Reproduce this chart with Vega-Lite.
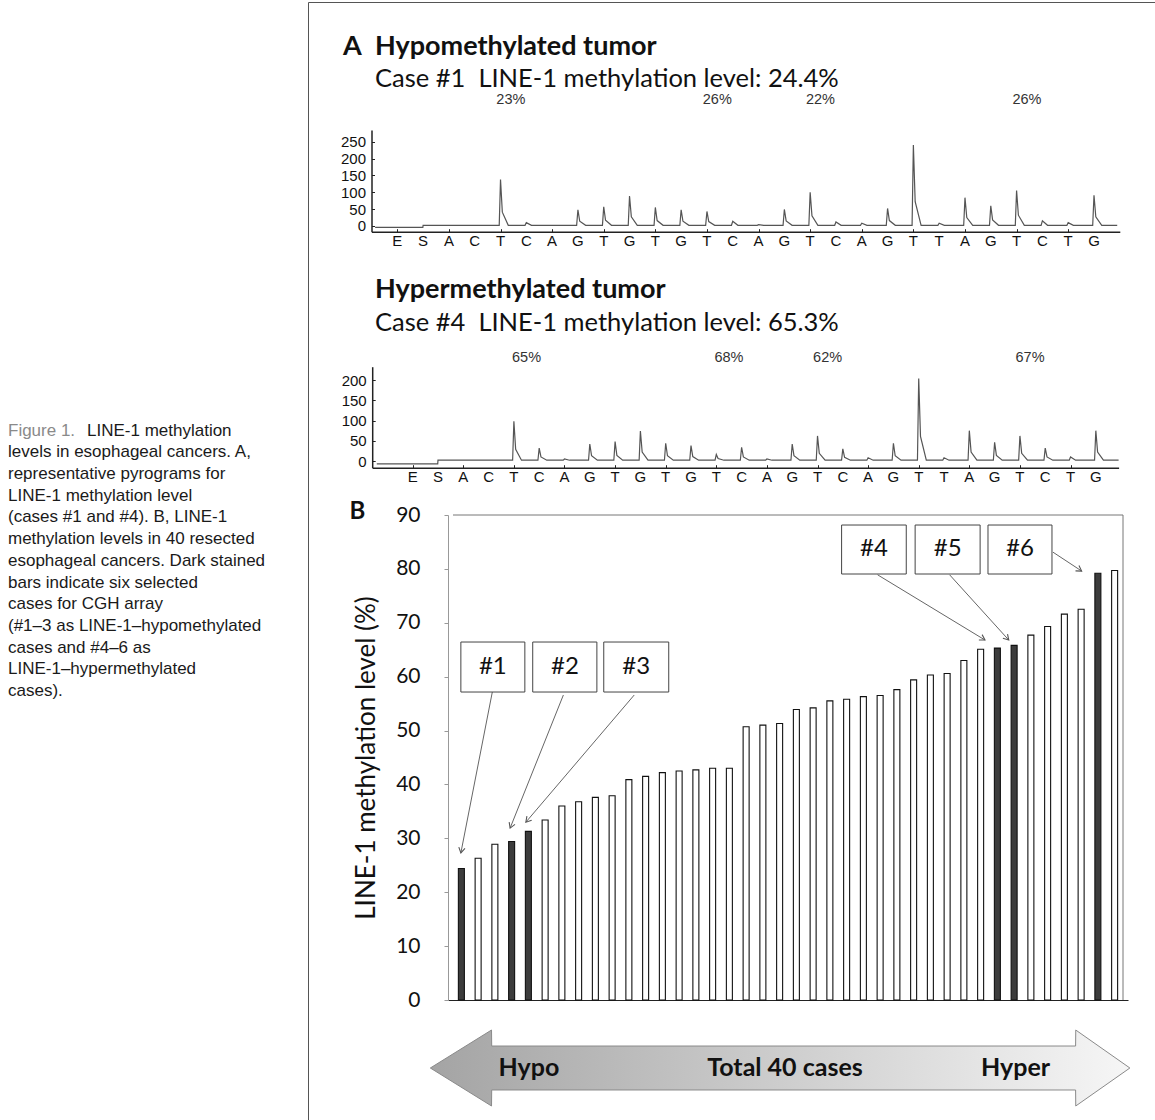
{
  "$schema": "https://vega.github.io/schema/vega-lite/v6.json",
  "width": 847,
  "height": 1125,
  "autosize": {"type": "none"},
  "padding": {"left": 308, "top": 2, "right": 0, "bottom": 0},
  "background": "white",
  "config": {"view": {"stroke": "#555", "strokeWidth": 1}, "font": "Lato"},
  "datasets": {
    "bars": [
      {"case": 1, "level": 24.4, "sel": "y"}, {"case": 2, "level": 26.3, "sel": "n"},
      {"case": 3, "level": 28.9, "sel": "n"}, {"case": 4, "level": 29.4, "sel": "y"},
      {"case": 5, "level": 31.3, "sel": "y"}, {"case": 6, "level": 33.4, "sel": "n"},
      {"case": 7, "level": 36.0, "sel": "n"}, {"case": 8, "level": 36.8, "sel": "n"},
      {"case": 9, "level": 37.6, "sel": "n"}, {"case": 10, "level": 37.9, "sel": "n"},
      {"case": 11, "level": 40.9, "sel": "n"}, {"case": 12, "level": 41.5, "sel": "n"},
      {"case": 13, "level": 42.2, "sel": "n"}, {"case": 14, "level": 42.5, "sel": "n"},
      {"case": 15, "level": 42.7, "sel": "n"}, {"case": 16, "level": 43.0, "sel": "n"},
      {"case": 17, "level": 43.0, "sel": "n"}, {"case": 18, "level": 50.7, "sel": "n"},
      {"case": 19, "level": 51.0, "sel": "n"}, {"case": 20, "level": 51.3, "sel": "n"},
      {"case": 21, "level": 53.9, "sel": "n"}, {"case": 22, "level": 54.2, "sel": "n"},
      {"case": 23, "level": 55.5, "sel": "n"}, {"case": 24, "level": 55.8, "sel": "n"},
      {"case": 25, "level": 56.3, "sel": "n"}, {"case": 26, "level": 56.5, "sel": "n"},
      {"case": 27, "level": 57.6, "sel": "n"}, {"case": 28, "level": 59.4, "sel": "n"},
      {"case": 29, "level": 60.3, "sel": "n"}, {"case": 30, "level": 60.6, "sel": "n"},
      {"case": 31, "level": 63.0, "sel": "n"}, {"case": 32, "level": 65.1, "sel": "n"},
      {"case": 33, "level": 65.3, "sel": "y"}, {"case": 34, "level": 65.8, "sel": "y"},
      {"case": 35, "level": 67.7, "sel": "n"}, {"case": 36, "level": 69.3, "sel": "n"},
      {"case": 37, "level": 71.6, "sel": "n"}, {"case": 38, "level": 72.5, "sel": "n"},
      {"case": 39, "level": 79.2, "sel": "y"}, {"case": 40, "level": 79.7, "sel": "n"}
    ],
    "frame": [
      {"x": 0.5, "y": 90, "x2": 40.5, "y2": 90},
      {"x": 40.5, "y": 0, "x2": 40.5, "y2": 90}
    ],
    "boxes": [
      {"lab": "#1", "x": 0.97, "x2": 4.79, "y": 57.15, "y2": 66.43, "cx": 2.88, "cy": 61.8},
      {"lab": "#2", "x": 5.26, "x2": 9.09, "y": 57.15, "y2": 66.43, "cx": 7.18, "cy": 61.8},
      {"lab": "#3", "x": 9.5, "x2": 13.38, "y": 57.15, "y2": 66.43, "cx": 11.44, "cy": 61.8},
      {"lab": "#4", "x": 23.7, "x2": 27.56, "y": 79.05, "y2": 88.14, "cx": 25.63, "cy": 83.6},
      {"lab": "#5", "x": 28.09, "x2": 31.97, "y": 79.05, "y2": 88.14, "cx": 30.03, "cy": 83.6},
      {"lab": "#6", "x": 32.44, "x2": 36.26, "y": 79.05, "y2": 88.14, "cx": 34.35, "cy": 83.6}
    ],
    "arrows": [
      {"x": 2.85, "y": 57.2, "x2": 0.97, "y2": 27.3},
      {"x": 7.09, "y": 56.6, "x2": 3.91, "y2": 31.9},
      {"x": 11.32, "y": 56.6, "x2": 4.85, "y2": 33.0},
      {"x": 25.85, "y": 78.9, "x2": 32.26, "y2": 66.8},
      {"x": 30.15, "y": 78.9, "x2": 33.68, "y2": 66.8},
      {"x": 36.32, "y": 83.1, "x2": 38.03, "y2": 79.6}
    ],
    "bigarrow": [
      {"x": -0.853, "y": -12.62, "y2": -12.62},
      {"x": 2.8, "y": -5.57, "y2": -19.67},
      {"x": 2.81, "y": -8.54, "y2": -16.7},
      {"x": 37.67, "y": -8.54, "y2": -16.7},
      {"x": 37.68, "y": -5.57, "y2": -19.67},
      {"x": 40.91, "y": -12.62, "y2": -12.62}
    ],
    "bigtext": [
      {"t": "Hypo", "x": 5.03, "y": -12.62},
      {"t": "Total 40 cases", "x": 20.32, "y": -12.62},
      {"t": "Hyper", "x": 34.09, "y": -12.62}
    ],
    "blabel": [{"t": "B", "x": -5.68, "y": 90.55}],
    "seq": [
      {"i": 1, "b": "E"}, {"i": 2, "b": "S"}, {"i": 3, "b": "A"}, {"i": 4, "b": "C"},
      {"i": 5, "b": "T"}, {"i": 6, "b": "C"}, {"i": 7, "b": "A"}, {"i": 8, "b": "G"},
      {"i": 9, "b": "T"}, {"i": 10, "b": "G"}, {"i": 11, "b": "T"}, {"i": 12, "b": "G"},
      {"i": 13, "b": "T"}, {"i": 14, "b": "C"}, {"i": 15, "b": "A"}, {"i": 16, "b": "G"},
      {"i": 17, "b": "T"}, {"i": 18, "b": "C"}, {"i": 19, "b": "A"}, {"i": 20, "b": "G"},
      {"i": 21, "b": "T"}, {"i": 22, "b": "T"}, {"i": 23, "b": "A"}, {"i": 24, "b": "G"},
      {"i": 25, "b": "T"}, {"i": 26, "b": "C"}, {"i": 27, "b": "T"}, {"i": 28, "b": "G"}
    ],
    "pyro1": [
      {"x": 0.14, "y": -4}, {"x": 1.99, "y": -4}, {"x": 2, "y": 2},
      {"x": 4.95, "y": 2}, {"x": 5, "y": 138}, {"x": 5.07, "y": 41}, {"x": 5.3, "y": 2},
      {"x": 5.95, "y": 2}, {"x": 6, "y": 10}, {"x": 6.2, "y": 2},
      {"x": 7.95, "y": 2}, {"x": 8, "y": 48}, {"x": 8.07, "y": 14}, {"x": 8.3, "y": 2},
      {"x": 8.95, "y": 2}, {"x": 9, "y": 57}, {"x": 9.07, "y": 17}, {"x": 9.3, "y": 2},
      {"x": 9.95, "y": 2}, {"x": 10, "y": 89}, {"x": 10.07, "y": 27}, {"x": 10.3, "y": 2},
      {"x": 10.95, "y": 2}, {"x": 11, "y": 55}, {"x": 11.07, "y": 16}, {"x": 11.3, "y": 2},
      {"x": 11.95, "y": 2}, {"x": 12, "y": 48}, {"x": 12.07, "y": 14}, {"x": 12.3, "y": 2},
      {"x": 12.95, "y": 2}, {"x": 13, "y": 43}, {"x": 13.07, "y": 13}, {"x": 13.3, "y": 2},
      {"x": 13.95, "y": 2}, {"x": 14, "y": 14}, {"x": 14.2, "y": 2},
      {"x": 14.95, "y": 2}, {"x": 15, "y": 4}, {"x": 15.2, "y": 2},
      {"x": 15.95, "y": 2}, {"x": 16, "y": 49}, {"x": 16.07, "y": 15}, {"x": 16.3, "y": 2},
      {"x": 16.95, "y": 2}, {"x": 17, "y": 100}, {"x": 17.07, "y": 30}, {"x": 17.3, "y": 2},
      {"x": 17.95, "y": 2}, {"x": 18, "y": 12}, {"x": 18.2, "y": 2},
      {"x": 18.95, "y": 2}, {"x": 19, "y": 8}, {"x": 19.2, "y": 2},
      {"x": 19.95, "y": 2}, {"x": 20, "y": 52}, {"x": 20.07, "y": 16}, {"x": 20.3, "y": 2},
      {"x": 20.95, "y": 2}, {"x": 21, "y": 240}, {"x": 21.07, "y": 72}, {"x": 21.3, "y": 2},
      {"x": 21.95, "y": 2}, {"x": 22, "y": 8}, {"x": 22.2, "y": 2},
      {"x": 22.95, "y": 2}, {"x": 23, "y": 84}, {"x": 23.07, "y": 25}, {"x": 23.3, "y": 2},
      {"x": 23.95, "y": 2}, {"x": 24, "y": 60}, {"x": 24.07, "y": 18}, {"x": 24.3, "y": 2},
      {"x": 24.95, "y": 2}, {"x": 25, "y": 105}, {"x": 25.07, "y": 32}, {"x": 25.3, "y": 2},
      {"x": 25.95, "y": 2}, {"x": 26, "y": 15}, {"x": 26.2, "y": 2},
      {"x": 26.95, "y": 2}, {"x": 27, "y": 10}, {"x": 27.2, "y": 2},
      {"x": 27.95, "y": 2}, {"x": 28, "y": 91}, {"x": 28.07, "y": 27}, {"x": 28.3, "y": 2},
      {"x": 28.9, "y": 2}
    ],
    "pyro2": [
      {"x": -0.42, "y": -7}, {"x": 1.99, "y": -7}, {"x": 2, "y": 2},
      {"x": 4.95, "y": 2}, {"x": 5, "y": 98}, {"x": 5.07, "y": 29}, {"x": 5.3, "y": 2},
      {"x": 5.95, "y": 2}, {"x": 6, "y": 32}, {"x": 6.07, "y": 10}, {"x": 6.3, "y": 2},
      {"x": 6.95, "y": 2}, {"x": 7, "y": 5}, {"x": 7.2, "y": 2},
      {"x": 7.95, "y": 2}, {"x": 8, "y": 42}, {"x": 8.07, "y": 13}, {"x": 8.3, "y": 2},
      {"x": 8.95, "y": 2}, {"x": 9, "y": 48}, {"x": 9.07, "y": 14}, {"x": 9.3, "y": 2},
      {"x": 9.95, "y": 2}, {"x": 10, "y": 74}, {"x": 10.07, "y": 22}, {"x": 10.3, "y": 2},
      {"x": 10.95, "y": 2}, {"x": 11, "y": 44}, {"x": 11.07, "y": 13}, {"x": 11.3, "y": 2},
      {"x": 11.95, "y": 2}, {"x": 12, "y": 38}, {"x": 12.07, "y": 11}, {"x": 12.3, "y": 2},
      {"x": 12.95, "y": 2}, {"x": 13, "y": 16}, {"x": 13.07, "y": 6}, {"x": 13.3, "y": 2},
      {"x": 13.95, "y": 2}, {"x": 14, "y": 34}, {"x": 14.07, "y": 10}, {"x": 14.3, "y": 2},
      {"x": 14.95, "y": 2}, {"x": 15, "y": 5}, {"x": 15.2, "y": 2},
      {"x": 15.95, "y": 2}, {"x": 16, "y": 42}, {"x": 16.07, "y": 13}, {"x": 16.3, "y": 2},
      {"x": 16.95, "y": 2}, {"x": 17, "y": 62}, {"x": 17.07, "y": 19}, {"x": 17.3, "y": 2},
      {"x": 17.95, "y": 2}, {"x": 18, "y": 30}, {"x": 18.07, "y": 9}, {"x": 18.3, "y": 2},
      {"x": 18.95, "y": 2}, {"x": 19, "y": 8}, {"x": 19.2, "y": 2},
      {"x": 19.95, "y": 2}, {"x": 20, "y": 44}, {"x": 20.07, "y": 13}, {"x": 20.3, "y": 2},
      {"x": 20.95, "y": 2}, {"x": 21, "y": 204}, {"x": 21.07, "y": 61}, {"x": 21.3, "y": 2},
      {"x": 21.95, "y": 2}, {"x": 22, "y": 8}, {"x": 22.2, "y": 2},
      {"x": 22.95, "y": 2}, {"x": 23, "y": 75}, {"x": 23.07, "y": 22}, {"x": 23.3, "y": 2},
      {"x": 23.95, "y": 2}, {"x": 24, "y": 46}, {"x": 24.07, "y": 14}, {"x": 24.3, "y": 2},
      {"x": 24.95, "y": 2}, {"x": 25, "y": 62}, {"x": 25.07, "y": 19}, {"x": 25.3, "y": 2},
      {"x": 25.95, "y": 2}, {"x": 26, "y": 32}, {"x": 26.07, "y": 10}, {"x": 26.3, "y": 2},
      {"x": 26.95, "y": 2}, {"x": 27, "y": 10}, {"x": 27.2, "y": 2},
      {"x": 27.95, "y": 2}, {"x": 28, "y": 75}, {"x": 28.07, "y": 22}, {"x": 28.3, "y": 2},
      {"x": 28.9, "y": 2}
    ],
    "pct1": [
      {"t": "23%", "x": 5.4, "y": 375}, {"t": "26%", "x": 13.4, "y": 375},
      {"t": "22%", "x": 17.4, "y": 375}, {"t": "26%", "x": 25.4, "y": 375}
    ],
    "pct2": [
      {"t": "65%", "x": 5.5, "y": 254.5}, {"t": "68%", "x": 13.5, "y": 254.5},
      {"t": "62%", "x": 17.4, "y": 254.5}, {"t": "67%", "x": 25.4, "y": 254.5}
    ],
    "head1": [
      {"k": "h", "text": "A", "x": -1.105, "y": 530.9},
      {"k": "h", "text": "Hypomethylated tumor", "x": 0.136, "y": 530.9},
      {"k": "s", "text": "Case #1\u00a0\u00a0LINE-1 methylation level: 24.4%", "x": 0.136, "y": 436}
    ],
    "head2": [
      {"k": "h", "text": "Hypermethylated tumor", "x": -0.489, "y": 422.5},
      {"k": "s", "text": "Case #4\u00a0\u00a0LINE-1 methylation level: 65.3%", "x": -0.489, "y": 341}
    ],
    "caption": [
      {"line": 1, "part": "fig", "text": "Figure 1."},
      {"line": 1, "part": "first", "text": "LINE-1 methylation"},
      {"line": 2, "part": "body", "text": "levels in esophageal cancers. A,"},
      {"line": 3, "part": "body", "text": "representative pyrograms for"},
      {"line": 4, "part": "body", "text": "LINE-1 methylation level"},
      {"line": 5, "part": "body", "text": "(cases #1 and #4). B, LINE-1"},
      {"line": 6, "part": "body", "text": "methylation levels in 40 resected"},
      {"line": 7, "part": "body", "text": "esophageal cancers. Dark stained"},
      {"line": 8, "part": "body", "text": "bars indicate six selected"},
      {"line": 9, "part": "body", "text": "cases for CGH array"},
      {"line": 10, "part": "body", "text": "(#1–3 as LINE-1–hypomethylated"},
      {"line": 11, "part": "body", "text": "cases and #4–6 as"},
      {"line": 12, "part": "body", "text": "LINE-1–hypermethylated"},
      {"line": 13, "part": "body", "text": "cases)."}
    ]
  },
  "resolve": {"scale": {"x": "independent", "y": "independent"}},
  "layer": [
    {
      "layer": [
        {
          "data": {"name": "bars"},
          "mark": {"type": "bar", "orient": "vertical", "width": 6, "stroke": "#111", "strokeWidth": 1.1},
          "encoding": {
            "x": {"field": "case", "type": "quantitative",
              "scale": {"domain": [0.5, 40.5], "range": [140, 820], "nice": false, "zero": false},
              "axis": {"orient": "bottom", "offset": -127, "labels": false, "ticks": false, "title": null, "grid": false, "domainColor": "#222", "domainWidth": 1.2}},
            "y": {"field": "level", "type": "quantitative",
              "scale": {"domain": [0, 90], "range": [998, 513], "nice": false},
              "axis": {"orient": "left", "offset": -140, "values": [0, 10, 20, 30, 40, 50, 60, 70, 80, 90],
                "title": "LINE-1 methylation level (%)", "titleFont": "Lato", "titleFontSize": 26, "titleFontWeight": "normal", "titleColor": "#111", "titlePadding": 16,
                "labelFont": "Lato", "labelFontSize": 21, "labelColor": "#111", "labelPadding": 24, "labelOverlap": false,
                "tickSize": 4, "tickColor": "#999", "domainColor": "#999", "grid": false}},
            "fill": {"field": "sel", "type": "nominal", "scale": {"domain": ["n", "y"], "range": ["#ffffff", "#3c3c3c"]}, "legend": null}
          }
        },
        {
          "data": {"name": "bigarrow"},
          "mark": {"type": "area", "stroke": "#8a8a8a", "strokeWidth": 1,
            "color": {"gradient": "linear", "x1": 0, "y1": 0, "x2": 1, "y2": 0,
              "stops": [{"offset": 0, "color": "#a4a4a4"}, {"offset": 1, "color": "#f6f6f6"}]}},
          "encoding": {
            "x": {"field": "x", "type": "quantitative"},
            "y": {"field": "y", "type": "quantitative"},
            "y2": {"field": "y2"}
          }
        },
        {
          "data": {"name": "bigtext"},
          "mark": {"type": "text", "font": "Lato", "fontWeight": "bold", "fontSize": 25, "fill": "#111", "baseline": "middle", "align": "center"},
          "encoding": {
            "x": {"field": "x", "type": "quantitative"},
            "y": {"field": "y", "type": "quantitative"},
            "text": {"field": "t"}
          }
        },
        {
          "data": {"name": "frame"},
          "mark": {"type": "rule", "stroke": "#777", "strokeWidth": 1},
          "encoding": {
            "x": {"field": "x", "type": "quantitative"},
            "y": {"field": "y", "type": "quantitative"},
            "x2": {"field": "x2"},
            "y2": {"field": "y2"}
          }
        },
        {
          "data": {"name": "arrows"},
          "mark": {"type": "rule", "stroke": "#666", "strokeWidth": 1},
          "encoding": {
            "x": {"field": "x", "type": "quantitative"},
            "y": {"field": "y", "type": "quantitative"},
            "x2": {"field": "x2"},
            "y2": {"field": "y2"}
          }
        },
        {
          "data": {"name": "arrows"},
          "transform": [{"calculate": "atan2(-(datum.y2 - datum.y) * 5.389, (datum.x2 - datum.x) * 17) * 180 / PI", "as": "ang"}],
          "mark": {"type": "point", "shape": "M-1,-0.6L0,0L-1,0.6", "filled": false, "stroke": "#555", "strokeWidth": 1.1, "size": 110, "opacity": 1},
          "encoding": {
            "x": {"field": "x2", "type": "quantitative"},
            "y": {"field": "y2", "type": "quantitative"},
            "angle": {"field": "ang", "type": "quantitative", "scale": null}
          }
        },
        {
          "data": {"name": "boxes"},
          "mark": {"type": "rect", "fill": "white", "stroke": "#444", "strokeWidth": 1},
          "encoding": {
            "x": {"field": "x", "type": "quantitative"},
            "x2": {"field": "x2"},
            "y": {"field": "y", "type": "quantitative"},
            "y2": {"field": "y2"}
          }
        },
        {
          "data": {"name": "boxes"},
          "mark": {"type": "text", "font": "Lato", "fontSize": 24, "fill": "#111", "baseline": "middle", "align": "center"},
          "encoding": {
            "x": {"field": "cx", "type": "quantitative"},
            "y": {"field": "cy", "type": "quantitative"},
            "text": {"field": "lab"}
          }
        },
        {
          "data": {"name": "blabel"},
          "mark": {"type": "text", "font": "Lato", "fontSize": 24, "fontWeight": "bold", "fill": "#111", "baseline": "middle", "align": "left"},
          "encoding": {
            "x": {"field": "x", "type": "quantitative"},
            "y": {"field": "y", "type": "quantitative"},
            "text": {"field": "t"}
          }
        }
      ]
    },
    {
      "layer": [
        {
          "data": {"name": "pyro1"},
          "mark": {"type": "line", "stroke": "#555", "strokeWidth": 1.2},
          "encoding": {
            "x": {"field": "x", "type": "quantitative",
              "scale": {"domain": [0, 29], "range": [63.5, 811.8], "nice": false, "zero": false},
              "axis": {"orient": "bottom", "offset": -895.3, "values": [1,2,3,4,5,6,7,8,9,10,11,12,13,14,15,16,17,18,19,20,21,22,23,24,25,26,27,28],
                "labels": false, "title": null, "grid": false, "tickSize": -3, "tickColor": "#222", "domainColor": "#222", "domainWidth": 1.5}},
            "y": {"field": "y", "type": "quantitative",
              "scale": {"domain": [-17, 285], "range": [229.7, 127.9], "nice": false, "zero": false},
              "axis": {"orient": "left", "offset": -63.5, "values": [0, 50, 100, 150, 200, 250], "title": null, "grid": false,
                "tickSize": -3, "tickColor": "#222", "labelPadding": 9, "labelFont": "Liberation Sans", "labelFontSize": 15, "labelColor": "#111",
                "labelOverlap": false, "labelFlush": false, "domainColor": "#222", "domainWidth": 1.5}}
          }
        },
        {
          "data": {"name": "seq"},
          "mark": {"type": "text", "font": "Liberation Sans", "fontSize": 15, "fill": "#111", "baseline": "middle", "align": "center"},
          "encoding": {
            "x": {"field": "i", "type": "quantitative"},
            "y": {"datum": -44},
            "text": {"field": "b"}
          }
        },
        {
          "data": {"name": "pct1"},
          "mark": {"type": "text", "font": "Liberation Sans Narrow, Liberation Sans", "fontSize": 14.5, "fill": "#333", "baseline": "middle", "align": "center"},
          "encoding": {
            "x": {"field": "x", "type": "quantitative"},
            "y": {"field": "y", "type": "quantitative"},
            "text": {"field": "t"}
          }
        },
        {
          "data": {"name": "head1"},
          "transform": [{"filter": "datum.k == 'h'"}],
          "mark": {"type": "text", "font": "Lato", "fontSize": 27, "fontWeight": "bold", "fill": "#111", "baseline": "middle", "align": "left"},
          "encoding": {
            "x": {"field": "x", "type": "quantitative"},
            "y": {"field": "y", "type": "quantitative"},
            "text": {"field": "text"}
          }
        },
        {
          "data": {"name": "head1"},
          "transform": [{"filter": "datum.k == 's'"}],
          "mark": {"type": "text", "font": "Lato", "fontSize": 25.5, "fill": "#111", "baseline": "middle", "align": "left"},
          "encoding": {
            "x": {"field": "x", "type": "quantitative"},
            "y": {"field": "y", "type": "quantitative"},
            "text": {"field": "text"}
          }
        }
      ]
    },
    {
      "layer": [
        {
          "data": {"name": "pyro2"},
          "mark": {"type": "line", "stroke": "#555", "strokeWidth": 1.2},
          "encoding": {
            "x": {"field": "x", "type": "quantitative",
              "scale": {"domain": [-0.6, 28.9], "range": [64.2, 810.6], "nice": false, "zero": false},
              "axis": {"orient": "bottom", "offset": -659.3, "values": [1,2,3,4,5,6,7,8,9,10,11,12,13,14,15,16,17,18,19,20,21,22,23,24,25,26,27,28],
                "labels": false, "title": null, "grid": false, "tickSize": -3, "tickColor": "#222", "domainColor": "#222", "domainWidth": 1.5}},
            "y": {"field": "y", "type": "quantitative",
              "scale": {"domain": [-16.5, 233], "range": [465.7, 364.7], "nice": false, "zero": false},
              "axis": {"orient": "left", "offset": -64.2, "values": [0, 50, 100, 150, 200], "title": null, "grid": false,
                "tickSize": -3, "tickColor": "#222", "labelPadding": 9, "labelFont": "Liberation Sans", "labelFontSize": 15, "labelColor": "#111",
                "labelOverlap": false, "labelFlush": false, "domainColor": "#222", "domainWidth": 1.5}}
          }
        },
        {
          "data": {"name": "seq"},
          "mark": {"type": "text", "font": "Liberation Sans", "fontSize": 15, "fill": "#111", "baseline": "middle", "align": "center"},
          "encoding": {
            "x": {"field": "i", "type": "quantitative"},
            "y": {"datum": -39},
            "text": {"field": "b"}
          }
        },
        {
          "data": {"name": "pct2"},
          "mark": {"type": "text", "font": "Liberation Sans Narrow, Liberation Sans", "fontSize": 14.5, "fill": "#333", "baseline": "middle", "align": "center"},
          "encoding": {
            "x": {"field": "x", "type": "quantitative"},
            "y": {"field": "y", "type": "quantitative"},
            "text": {"field": "t"}
          }
        },
        {
          "data": {"name": "head2"},
          "transform": [{"filter": "datum.k == 'h'"}],
          "mark": {"type": "text", "font": "Lato", "fontSize": 27, "fontWeight": "bold", "fill": "#111", "baseline": "middle", "align": "left"},
          "encoding": {
            "x": {"field": "x", "type": "quantitative"},
            "y": {"field": "y", "type": "quantitative"},
            "text": {"field": "text"}
          }
        },
        {
          "data": {"name": "head2"},
          "transform": [{"filter": "datum.k == 's'"}],
          "mark": {"type": "text", "font": "Lato", "fontSize": 25.5, "fill": "#111", "baseline": "middle", "align": "left"},
          "encoding": {
            "x": {"field": "x", "type": "quantitative"},
            "y": {"field": "y", "type": "quantitative"},
            "text": {"field": "text"}
          }
        }
      ]
    },
    {
      "data": {"name": "caption"},
      "layer": [
        {
          "transform": [{"filter": "datum.part == 'fig'"}],
          "mark": {"type": "text", "font": "Liberation Sans", "fontSize": 17, "fill": "#8a8a8a", "baseline": "middle", "align": "left"},
          "encoding": {
            "x": {"datum": 0, "type": "quantitative", "scale": {"domain": [0, 1], "range": [-300, -30]}, "axis": null},
            "y": {"field": "line", "type": "quantitative", "scale": {"domain": [1, 13], "range": [428.7, 689]}, "axis": null},
            "text": {"field": "text"}
          }
        },
        {
          "transform": [{"filter": "datum.part == 'first'"}],
          "mark": {"type": "text", "font": "Liberation Sans", "fontSize": 17, "fill": "#1a1a1a", "baseline": "middle", "align": "left", "dx": 79},
          "encoding": {
            "x": {"datum": 0, "type": "quantitative", "axis": null},
            "y": {"field": "line", "type": "quantitative", "axis": null},
            "text": {"field": "text"}
          }
        },
        {
          "transform": [{"filter": "datum.part == 'body'"}],
          "mark": {"type": "text", "font": "Liberation Sans", "fontSize": 17, "fill": "#1a1a1a", "baseline": "middle", "align": "left"},
          "encoding": {
            "x": {"datum": 0, "type": "quantitative", "axis": null},
            "y": {"field": "line", "type": "quantitative", "axis": null},
            "text": {"field": "text"}
          }
        }
      ]
    }
  ]
}
